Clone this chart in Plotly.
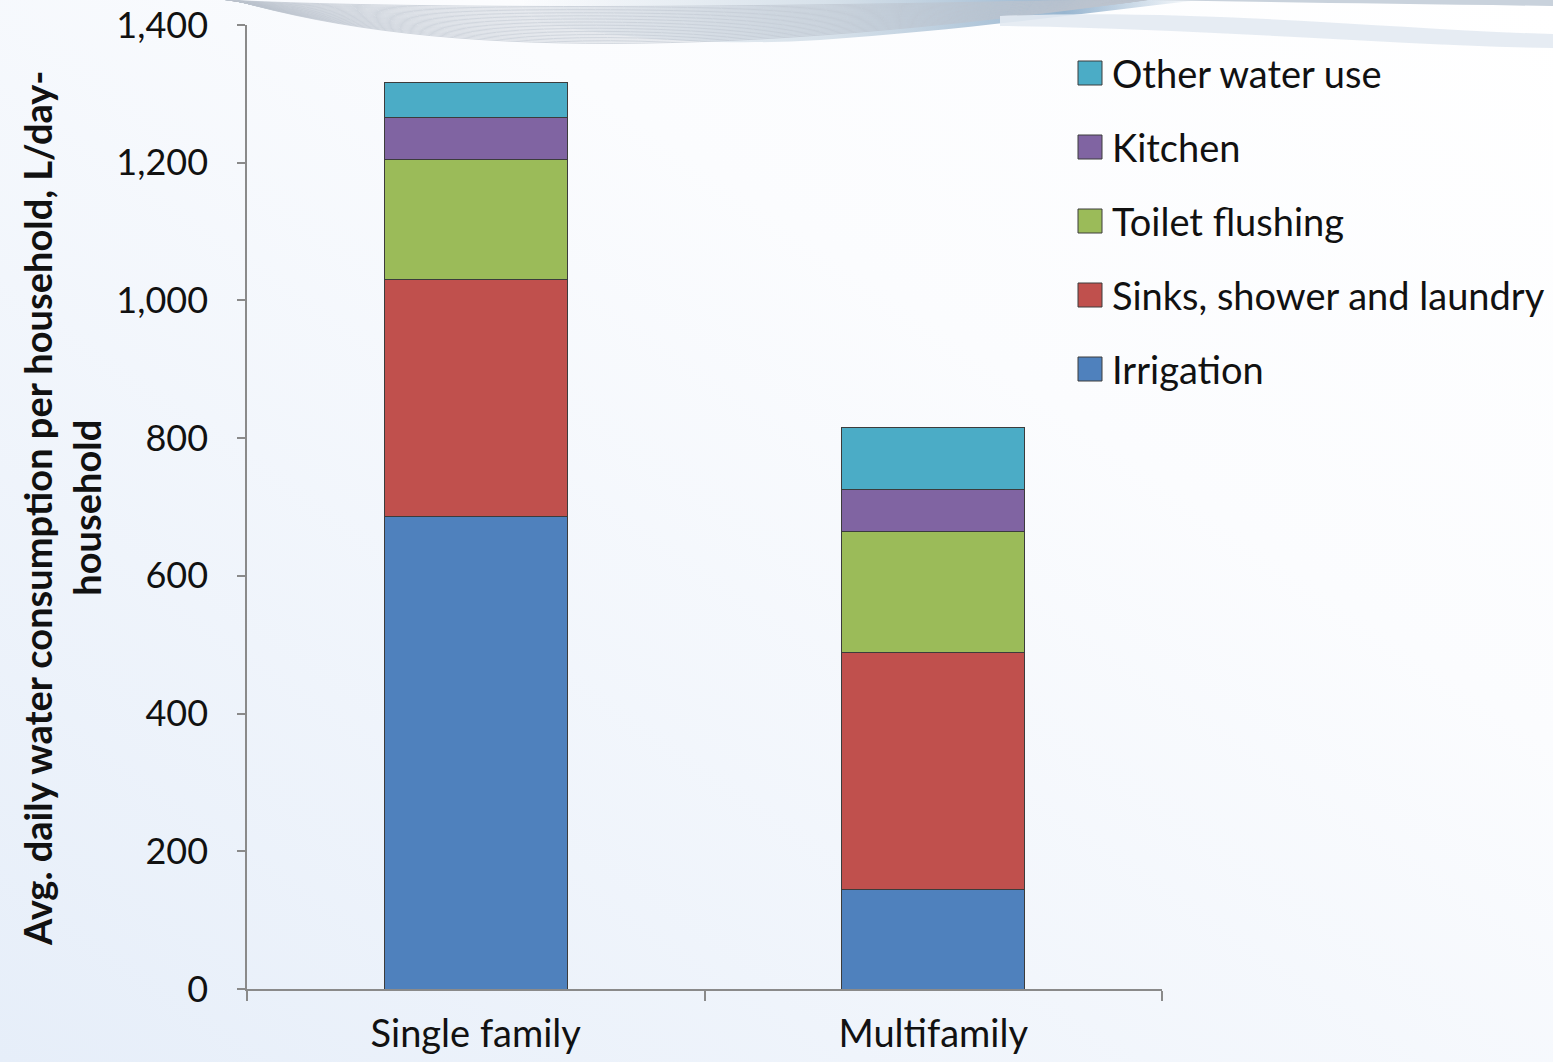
import base64
import plotly.graph_objects as go

# Household types and water-use components (L/day per household)
categories = ["Single family", "Multifamily"]
series_names = ["Irrigation", "Sinks, shower and laundry", "Toilet flushing", "Kitchen", "Other water use"]
irrigation = [686, 145]
sinks_shower_laundry = [345, 344]
toilet_flushing = [174, 175]
kitchen = [60, 61]
other_water_use = [51, 90]
series_values = [irrigation, sinks_shower_laundry, toilet_flushing, kitchen, other_water_use]
series_colors = ["#4F81BD", "#C0504D", "#9BBB59", "#8064A2", "#4BACC6"]
y_tick_values = [0, 200, 400, 600, 800, 1000, 1200, 1400]

W, H = 1553, 1062
L, R, T, B = 247, 391, 25, 73
PW, PH = W - L - R, H - T - B
FONT = "Lato"

# Soft slide-style background: pale blue gradient with a wave band at the top
wave_lines = []
for i in range(26):
    t = i / 25
    wave_lines.append(
        f'<path d="M {225 + 10 * t:.1f},0 C {380 + 60 * t:.1f},{8 + 52 * t:.1f} '
        f'{700 + 40 * t:.1f},{10 + 45 * t:.1f} {1160 - 30 * t:.1f},{-2 + 4 * t:.1f}" '
        f'fill="none" stroke="#bcc4ce" stroke-width="0.9" stroke-opacity="0.75"/>'
    )
svg = f'''<svg xmlns="http://www.w3.org/2000/svg" width="{W}" height="{H}" viewBox="0 0 {W} {H}">
<defs>
<linearGradient id="bg" x1="1" y1="0" x2="0" y2="1">
<stop offset="0" stop-color="#ffffff"/>
<stop offset="0.35" stop-color="#fbfcfe"/>
<stop offset="1" stop-color="#e6eef9"/>
</linearGradient>
<linearGradient id="band" x1="0" y1="0" x2="1" y2="0">
<stop offset="0" stop-color="#9fb8cc" stop-opacity="0"/>
<stop offset="0.45" stop-color="#a9bfd1" stop-opacity="0.45"/>
<stop offset="0.8" stop-color="#7ea3c4" stop-opacity="0.8"/>
<stop offset="1" stop-color="#7ea3c4" stop-opacity="0"/>
</linearGradient>
</defs>
<rect width="{W}" height="{H}" fill="url(#bg)"/>
<path d="M 520,0 L 1200,0 C 1080,14 960,30 820,40 C 720,46 620,40 540,22 Z" fill="url(#band)"/>
{''.join(wave_lines)}
<path d="M 1000,16 C 1200,8 1400,30 1553,34 L 1553,48 C 1400,46 1200,28 1000,26 Z" fill="#e3eaf2" fill-opacity="0.9"/>
<path d="M 1150,0 L 1553,0 L 1553,6 C 1400,4 1250,2 1150,0 Z" fill="#c9d2dc"/>
</svg>'''
bg_uri = "data:image/svg+xml;base64," + base64.b64encode(svg.encode()).decode()

fig = go.Figure()
for name, vals, color in zip(series_names, series_values, series_colors):
    fig.add_trace(go.Bar(
        x=categories, y=vals, name=name, width=0.4,
        marker=dict(color=color, line=dict(color="#3c3c3c", width=1)),
        showlegend=False,
    ))

# Legend drawn as large swatches with labels, top entry = last stacked series
shapes, annotations = [], []
for i, (name, color) in enumerate(zip(series_names[::-1], series_colors[::-1])):
    cy = 73 + 74 * i
    shapes.append(dict(
        type="rect", xref="paper", yref="paper",
        x0=(1078 - L) / PW, x1=(1102 - L) / PW,
        y0=(H - B - (cy + 12)) / PH, y1=(H - B - (cy - 12)) / PH,
        fillcolor=color, line=dict(color="#3c3c3c", width=1),
    ))
    annotations.append(dict(
        xref="paper", yref="paper", x=(1110 - L) / PW, y=(H - B - cy) / PH,
        xanchor="left", yanchor="middle", showarrow=False, text=name,
        font=dict(family=FONT, size=38, color="#111111"),
    ))

annotations.append(dict(
    xref="paper", yref="paper", x=(61 - L) / PW, y=(H - B - 508) / PH,
    xanchor="center", yanchor="middle", showarrow=False, textangle=-90,
    text="<b>Avg. daily water consumption per household, L/day-<br>household</b>",
    font=dict(family=FONT, size=38, color="#111111"),
))

fig.update_layout(
    width=W, height=H,
    margin=dict(l=L, r=R, t=T, b=B, autoexpand=False),
    barmode="stack",
    paper_bgcolor="white", plot_bgcolor="rgba(0,0,0,0)",
    font=dict(family=FONT, size=36, color="#111111"),
    shapes=shapes, annotations=annotations,
    images=[dict(
        source=bg_uri, xref="paper", yref="paper",
        x=-L / PW, y=1 + T / PH, sizex=W / PW, sizey=H / PH,
        xanchor="left", yanchor="top", sizing="stretch", layer="below",
    )],
    xaxis=dict(
        type="category", showline=True, linecolor="#8a8a8a", linewidth=1.5,
        ticks="outside", tickson="boundaries", ticklen=10, tickcolor="#8a8a8a",
        tickwidth=1.5, showgrid=False, zeroline=False, ticklabelstandoff=11,
        tickfont=dict(family=FONT, size=38, color="#111111"),
    ),
    yaxis=dict(
        range=[0, 1400], tickvals=y_tick_values, tickformat=",",
        showline=True, linecolor="#8a8a8a", linewidth=1.5,
        ticks="outside", ticklen=8, tickcolor="#8a8a8a", tickwidth=1.5,
        showgrid=False, zeroline=False, ticklabelstandoff=22,
        tickfont=dict(family=FONT, size=36, color="#111111"),
    ),
)

fig.write_html("out.html")
